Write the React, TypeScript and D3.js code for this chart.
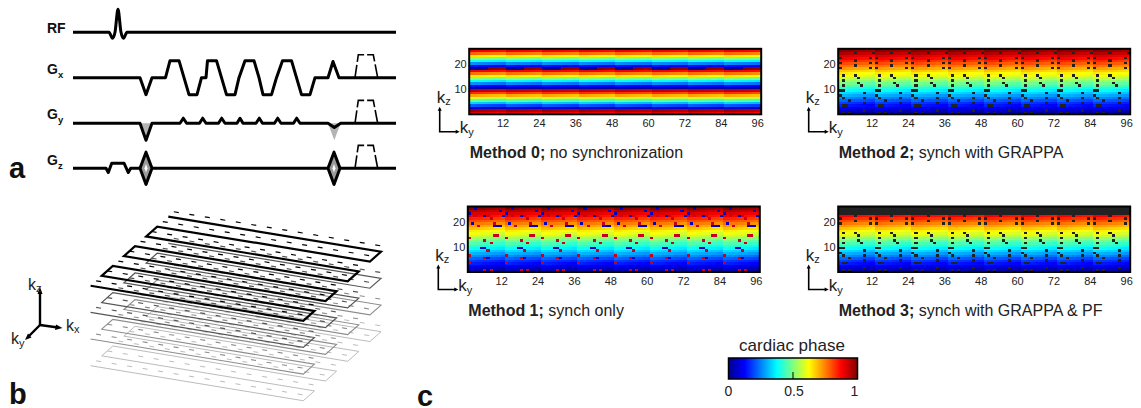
import * as d3 from "d3";

// ---- heatmap data ----
const kyCols = d3.range(1, 97);
const kzRows = d3.range(1, 27);
const blockStarts = d3.range(0, 96, 12);
const kyTicks = [12, 24, 36, 48, 60, 72, 84, 96];
const kzTicks = [10, 20];

// phase per kz row, bottom row first
const stripeRows = [0.9, 0.96, 0.07, 0.2, 0.32, 0.45, 0.57, 0.7, 0.82, 0.93, 0.03, 0.12, 0.25, 0.37, 0.5, 0.63, 0.75, 0.88, 0, 0.12, 0.25, 0.38, 0.5, 0.63, 0.76, 0.88];
const sweepRows = [0.02, 0.06, 0.1, 0.14, 0.17, 0.21, 0.25, 0.29, 0.33, 0.37, 0.4, 0.44, 0.48, 0.52, 0.56, 0.6, 0.63, 0.67, 0.71, 0.75, 0.79, 0.83, 0.87, 0.9, 0.94, 0.98];
// small phase drift inside each 12 line block
const blockDrift = [0.02, 0.016, 0.012, 0.009, 0.005, 0.002, -0.002, -0.005, -0.009, -0.012, -0.016, -0.02];

// sampled cells as [ky inside block, kz]
const method1Red = [[3, 23], [7, 23], [1, 23], [8, 22], [4, 19], [9, 20], [9, 15], [10, 15], [1, 14], [6, 13], [8, 12], [7, 9], [1, 7], [6, 6], [1, 4], [6, 1], [8, 1]];
const method1Blue = [[3, 26], [11, 25], [1, 24], [6, 23], [12, 23], [2, 20], [9, 19], [10, 19], [11, 19], [5, 10], [6, 10], [7, 6]];
const lowerSamples = [[2, 16], [2, 14], [2, 12], [1, 10], [2, 10], [1, 8], [2, 7], [2, 4], [4, 6], [3, 4], [6, 16], [7, 15], [7, 13], [8, 12], [9, 9], [9, 7], [9, 5], [9, 2], [2, 1], [4, 1]];
const method2Upper = [[1, 23], [1, 21], [1, 19], [6, 25], [6, 22], [6, 20], [11, 23], [11, 21], [11, 19], [12, 25]];
const method3Upper = [[1, 22], [1, 20], [6, 23], [6, 21], [11, 22], [11, 20]];
const method3Empty = [24, 25, 26];

// ---- colour bar ----
const jetStops = [0, 0.125, 0.375, 0.625, 0.875, 1];
const jetColors = ["#00008f", "#0000ff", "#00ffff", "#ffff00", "#ff0000", "#800000"];
const barTicks = [0, 0.5, 1];

// ---- pulse sequence, [time, amplitude] ----
const rfWave = [[0, 0], [36, 0], [39.5, -0.35], [42, 0], [45, 1.35], [48, 0], [50.5, -0.35], [54, 0], [323, 0]];
const gxWave = [[0, 0], [67, 0], [73, -1], [79, 0], [92.5, 0], [97, 1], [106, 1], [111, 0], [116, -1], [124, -1], [128.5, 0], [133, 0], [134.5, 1], [143.5, 1], [148.5, 0], [153.5, -1], [162, -1], [166, 0], [172, 1], [181, 1], [186, 0], [190, -1], [198.5, -1], [203.5, 0], [209.5, 1], [218.5, 1], [223.5, 0], [228.5, -1], [237, -1], [242, 0], [255, 0], [260, 0.95], [266, 0], [323, 0]];
const gyWave = [[0, 0], [67, 0], [73, -1], [79, 0], [107, 0], [110.3, 0.3], [113.6, 0], [126.5, 0], [129.7, 0.3], [133, 0], [145.5, 0], [148.7, 0.3], [152, 0], [164, 0], [167, 0.3], [170, 0], [183, 0], [186.3, 0.3], [189.5, 0], [201.5, 0], [204.7, 0.3], [208, 0], [220.5, 0], [223.7, 0.3], [227, 0], [255, 0], [261.3, -0.25], [267.7, 0], [323, 0]];
const gyFirstWedge = [[68.5, 0], [73, -0.8], [77.5, 0]];
const gySecondWedge = [[255, 0], [261.3, -1], [267.7, 0]];
const gzWave = [[0, 0], [33, 0], [35.3, -0.25], [38.7, 0.3], [51, 0.3], [55.3, -0.25], [57.7, 0], [323, 0]];
const gzDiamondTimes = [73, 261];
const gzDiamond = [[-6, 0], [0, 0.95], [6, 0], [0, -0.95]];
const gzDiamondCore = [[-1.5, 0], [0, 0.25], [1.5, 0], [0, -0.25]];
const spoiler = [[282, 0], [285.3, 1.35], [300.3, 1.35], [304.7, 0]];

// ---- k-space stack ----
const planes = [3, 2, 1, 0];
const planeColors = ["#000000", "#555555", "#8c8c8c", "#bcbcbc"];
const planeWidths = [2.2, 1.2, 1.1, 1];
const solidLines = d3.range(0, 8);
const dashedLines = [-0.5, 0.5, 1.5, 2.5, 3.5, 4.5, 5.5, 6.5];

const font = "'Liberation Sans', Arial, sans-serif";

const jet = d3.scaleLinear<string>().domain(jetStops).range(jetColors).clamp(true);

const wrap = (v: number) => (v < 0 ? v + 1 : v > 1 ? v - 1 : v);

type Dots = { cells: number[][]; color: string }[];

const HeatPanel = ({ left, top, rows, drift, dots, blankRows, blank, title, rest }: {
  left: number; top: number; rows: number[]; drift: number[]; dots: Dots; blankRows?: number[]; blank?: string; title: string; rest: string;
}) => {
  const x = d3.scaleBand<number>().domain(kyCols).range([left, left + 291]);
  const y = d3.scaleBand<number>().domain(kzRows).range([top + 64.5, top]);
  const bw = x.bandwidth();
  const bh = y.bandwidth();
  const ax = left - 30;
  const ay = top + 82.5;
  return (
    <g>
      <g shapeRendering="crispEdges">
        {kzRows.map((r) =>
          kyCols.map((c) => (
            <rect key={`${r}-${c}`} x={x(c)} y={y(r)} width={bw + 0.5} height={bh + 0.5}
              fill={blankRows?.includes(r) ? blank : jet(wrap(rows[r - 1] + drift[(c - 1) % 12]))} />
          ))
        )}
        {dots.map((d, i) =>
          blockStarts.map((b) =>
            d.cells.map(([c, r]) => (
              <rect key={`${i}-${b}-${c}-${r}`} x={x(b + c)} y={y(r)! + 0.2} width={bw} height={bh} fill={d.color} />
            ))
          )
        )}
      </g>
      <rect x={left - 0.5} y={top - 0.5} width={292} height={65.5} fill="none" stroke="#000" strokeWidth={2} />
      {kyTicks.map((t) => (
        <text key={t} x={x(t)! + bw / 2 - 1.5} y={top + 78} textAnchor="middle" fontSize={11} fill="#222">{t}</text>
      ))}
      {kzTicks.map((t) => (
        <text key={t} x={left - 3} y={y(t)! + bh / 2 + 3} textAnchor="end" fontSize={11} fill="#222">{t}</text>
      ))}
      <path d={`M${ax},${ay - 22}V${ay}H${ax + 17}`} fill="none" stroke="#000" strokeWidth={1.6} />
      <path d={`M${ax},${ay - 25}l-2,4h4z`} fill="#000" />
      <path d={`M${ax + 20},${ay}l-4,-2v4z`} fill="#000" />
      <text x={ax - 3} y={ay - 29} fontSize={17} fill="#222">k<tspan fontSize={11} dy={2}>z</tspan></text>
      <text x={ax + 20} y={ay + 1} fontSize={17} fill="#222">k<tspan fontSize={11} dy={3}>y</tspan></text>
      <text x={left} y={top + 108.5} fontSize={16} fill="#222">
        <tspan fontWeight="bold">{title}</tspan> {rest}
      </text>
    </g>
  );
};

const PulseTrack = ({ wave, base }: { wave: number[][]; base: number }) => {
  const t = d3.scaleLinear().domain([0, 323]).range([73, 396]);
  const a = d3.scaleLinear().domain([-1, 1]).range([base + 17, base - 17]);
  const line = d3.line<number[]>().x((d) => t(d[0])).y((d) => a(d[1]));
  const trap = spoiler;
  return (
    <g>
      <path d={line(wave)!} fill="none" stroke="#000" strokeWidth={3} strokeLinejoin="round" />
      <path d={line(trap)!} fill="none" stroke="#000" strokeWidth={1.6} strokeDasharray="13 3" />
    </g>
  );
};

const PulseDiagram = () => {
  const t = d3.scaleLinear().domain([0, 323]).range([73, 396]);
  const amp = (base: number) => d3.scaleLinear().domain([-1, 1]).range([base + 17, base - 17]);
  const gy = amp(123.3);
  const gz = amp(168.3);
  const gyArea = d3.line<number[]>().x((d) => t(d[0])).y((d) => gy(d[1]));
  const diamond = (t0: number) => d3.line<number[]>().x((d) => t(t0 + d[0])).y((d) => gz(d[1])).curve(d3.curveLinearClosed);
  const rfLine = d3.line<number[]>().x((d) => t(d[0])).y((d) => amp(32.3)(d[1])).curve(d3.curveMonotoneX);
  const labelProps = { fontSize: 14, fontWeight: "bold", fill: "#111" } as const;
  return (
    <g>
      <path d={rfLine(rfWave)!} fill="none" stroke="#000" strokeWidth={3} />
      <PulseTrack wave={gxWave} base={77.7} />
      <path d={gyArea(gyFirstWedge)!} fill="#b4b4b4" />
      <path d={gyArea(gySecondWedge)!} fill="#b4b4b4" />
      <PulseTrack wave={gyWave} base={123.3} />
      <PulseTrack wave={gzWave} base={168.3} />
      {gzDiamondTimes.map((d) => (
        <g key={d}>
          <path d={diamond(d)(gzDiamond)!} fill="#9a9a9a" stroke="#000" strokeWidth={3} strokeLinejoin="round" />
          <path d={diamond(d)(gzDiamondCore)!} fill="#fff" />
        </g>
      ))}
      <text x={47} y={33} {...labelProps}>RF</text>
      <text x={47} y={74} {...labelProps}>G<tspan fontSize={9.5} dy={4}>x</tspan></text>
      <text x={47} y={119} {...labelProps}>G<tspan fontSize={9.5} dy={4}>y</tspan></text>
      <text x={47} y={165} {...labelProps}>G<tspan fontSize={9.5} dy={4}>z</tspan></text>
    </g>
  );
};

const KSpaceStack = () => {
  const kxToX = d3.scaleLinear().domain([0, 1]).range([0, 212.7]);
  const kxToY = d3.scaleLinear().domain([0, 1]).range([0, 35]);
  const kyToX = d3.scaleLinear().domain([0, 1]).range([0, -11.1]);
  const kyToY = d3.scaleLinear().domain([0, 1]).range([0, 9.86]);
  const kzToY = d3.scaleLinear().domain([0, 1]).range([0, 26.67]);
  const project = (plane: number) => d3.line<number[]>()
    .x((d) => 168.3 + kxToX(d[0]) + kyToX(d[1]))
    .y((d) => 216.7 + kxToY(d[0]) + kyToY(d[1]) + kzToY(plane));
  return (
    <g>
      {planes.map((p) => {
        const trace = solidLines.flatMap((l) => (l % 2 === 0 ? [[0, l], [1, l]] : [[1, l], [0, l]]));
        return (
          <g key={p} stroke={planeColors[p]} fill="none">
            {dashedLines.map((l) => (
              <path key={l} d={project(p)([[0, l], [0.98, l]])!} strokeWidth={Math.min(planeWidths[p], 1.2)} strokeDasharray="5 10.7" />
            ))}
            <path d={project(p)(trace)!} strokeWidth={planeWidths[p]} strokeLinejoin="miter" />
          </g>
        );
      })}
      <g stroke="#000" strokeWidth={2.4}>
        <path d="M40,325V293" />
        <path d="M40,325L58,327.5" />
        <path d="M40,325L28,337" />
      </g>
      <path d="M40,287l-2.5,7h5z" fill="#000" />
      <path d="M62.5,328l-6.5,-3.5l-1,5.5z" fill="#000" />
      <path d="M25,340l6.5,-2.5l-3.5,-4z" fill="#000" />
      <text x={28} y={290} fontSize={16} fill="#222">k<tspan fontSize={11} dy={2}>z</tspan></text>
      <text x={66} y={331} fontSize={16} fill="#222">k<tspan fontSize={11} dy={2}>x</tspan></text>
      <text x={11} y={344} fontSize={16} fill="#222">k<tspan fontSize={11} dy={3}>y</tspan></text>
    </g>
  );
};

const ColorBar = () => {
  const x = d3.scaleLinear().domain([0, 1]).range([728.5, 857.5]);
  return (
    <g>
      <defs>
        <linearGradient id="jetBar">
          {jetStops.map((s, i) => <stop key={s} offset={s} stopColor={jetColors[i]} />)}
        </linearGradient>
      </defs>
      <text x={792} y={351} textAnchor="middle" fontSize={17} fill="#222">cardiac phase</text>
      <rect x={x(0)} y={358} width={x(1) - x(0)} height={21} fill="url(#jetBar)" stroke="#000" strokeWidth={1.5} />
      <path d={`M${x(0.5)},372V379`} stroke="#000" strokeWidth={1} />
      {barTicks.map((t) => (
        <text key={t} x={t === 1 ? x(t) - 3 : x(t) + (t === 0.5 ? 1 : 0)} y={396} textAnchor="middle" fontSize={14} fill="#222">{t}</text>
      ))}
    </g>
  );
};

export default function App() {
  const black = "#222222";
  return (
    <svg width={1141} height={408} style={{ position: "absolute", left: 0, top: 0, fontFamily: font, background: "#fff" }}>
      <PulseDiagram />
      <KSpaceStack />
      <HeatPanel left={469.7} top={49.3} rows={stripeRows} drift={blockDrift} dots={[]} title="Method 0;" rest="no synchronization" />
      <HeatPanel left={838.7} top={49.3} rows={sweepRows} drift={blockDrift} dots={[{ cells: [...method2Upper, ...lowerSamples], color: black }]} title="Method 2;" rest="synch with GRAPPA" />
      <HeatPanel left={468.3} top={207} rows={sweepRows} drift={blockDrift} dots={[{ cells: method1Red, color: "#c8001e" }, { cells: method1Blue, color: "#0000c0" }]} title="Method 1;" rest="synch only" />
      <HeatPanel left={838.7} top={207} rows={sweepRows} drift={blockDrift} dots={[{ cells: [...method3Upper, ...lowerSamples], color: black }]} blankRows={method3Empty} blank={black} title="Method 3;" rest="synch with GRAPPA & PF" />
      <ColorBar />
      <text x={9} y={178} fontSize={29} fontWeight="bold" fill="#111">a</text>
      <text x={9} y={404} fontSize={29} fontWeight="bold" fill="#111">b</text>
      <text x={417} y={406} fontSize={29} fontWeight="bold" fill="#111">c</text>
    </svg>
  );
}
